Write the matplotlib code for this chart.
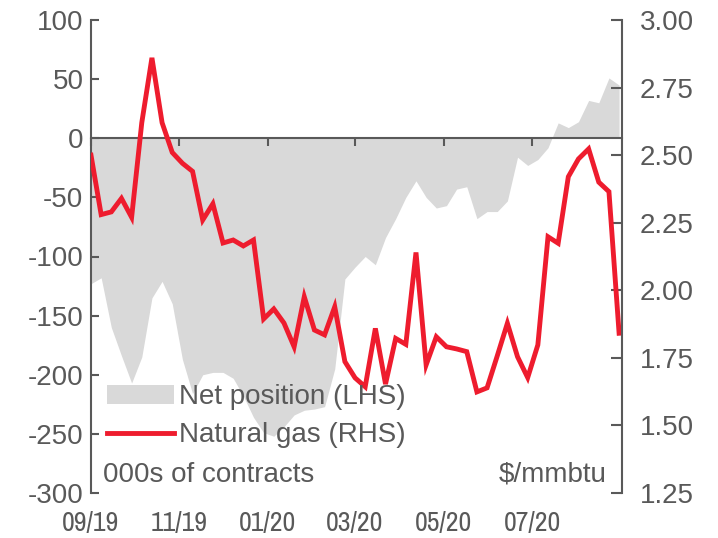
import matplotlib
matplotlib.use("Agg")
import matplotlib.pyplot as plt
import matplotlib.dates as mdates
from matplotlib import font_manager
import pandas as pd
import numpy as np

plt.rcParams['font.family'] = ['Liberation Sans', 'DejaVu Sans']
plt.rcParams['axes.unicode_minus'] = False

# ---- data (weekly, Sep 2019 - Sep 2020) ----
start_date = "2019-09-03"
n_weeks = 53
net_position = [-123, -118, -160, -184, -207, -185, -135, -121, -140, -187,
                -216, -200, -198, -198, -203, -218, -236, -249, -252, -244,
                -234, -230, -229, -227, -195, -119, -109, -100, -107, -84,
                -68, -50, -36, -50, -59, -57, -43, -41, -68, -62,
                -62, -53, -16, -23, -18, -8, 13, 9, 14, 32, 30, 51, 45]
natural_gas = [2.50, 2.28, 2.29, 2.34, 2.27, 2.62, 2.86, 2.62, 2.51, 2.47,
               2.44, 2.26, 2.32, 2.175, 2.186, 2.164, 2.186, 1.894, 1.931, 1.879,
               1.791, 1.976, 1.853, 1.835, 1.939, 1.736, 1.676, 1.643, 1.859, 1.653,
               1.822, 1.80, 2.14, 1.724, 1.828, 1.791, 1.783, 1.773, 1.624, 1.639,
               1.757, 1.878, 1.754, 1.677, 1.798, 2.198, 2.174, 2.42, 2.486, 2.523,
               2.40, 2.365, 1.841]
x_tick_dates = ["2019-09-03", "2019-11-03", "2020-01-03", "2020-03-03", "2020-05-03", "2020-07-03"]
x_tick_labels = ["09/19", "11/19", "01/20", "03/20", "05/20", "07/20"]
left_ticks = [100, 50, 0, -50, -100, -150, -200, -250, -300]
right_ticks = [3.00, 2.75, 2.50, 2.25, 2.00, 1.75, 1.50, 1.25]
series_labels = ["Net position (LHS)", "Natural gas (RHS)"]

dates = pd.date_range(start_date, periods=n_weeks, freq="7D")

TXT = "#595959"
AX = "#595959"
RED = "#EE1C2E"
GREY = "#D9D9D9"
FS = 20

# look for a condensed face for the date labels
narrow_font = None
for f in font_manager.fontManager.ttflist:
    nm = f.name
    if ('Narrow' in nm or 'Condensed' in nm) and f.weight in (400, 'normal', 'regular') and f.style == 'normal':
        narrow_font = nm
        break
if narrow_font is None:
    cands = [f for f in font_manager.fontManager.ttflist
             if f.stretch in ('condensed', 'semi-condensed') and f.style == 'normal'
             and f.weight in (400, 'normal', 'regular')]
    if cands:
        narrow_font = cands[0]
xfs = FS if narrow_font is not None else 17

fig = plt.figure(figsize=(7.18, 5.38), dpi=100)
W, H = 718, 538
L, R, T, B = 91, 622, 20, 493
ax = fig.add_axes([L / W, 1 - B / H, (R - L) / W, (B - T) / H])
ax2 = ax.twinx()

ax.fill_between(dates, 0, net_position, color=GREY, linewidth=0, label=series_labels[0])
ax2.plot(dates, natural_gas, color=RED, lw=3.5, label=series_labels[1], solid_joinstyle='miter')

ax.set_xlim(pd.Timestamp("2019-09-03"), pd.Timestamp("2020-09-03"))
ax.set_ylim(-300, 100)
ax2.set_ylim(1.25, 3.00)

for a in (ax, ax2):
    a.spines['top'].set_visible(False)
ax.spines['right'].set_visible(False)
ax2.spines['left'].set_visible(False)
ax2.spines['bottom'].set_visible(False)
ax.spines['left'].set_color(AX)
ax.spines['left'].set_linewidth(1.5)
ax2.spines['right'].set_color(AX)
ax2.spines['right'].set_linewidth(1.5)
ax.spines['bottom'].set_position(('data', 0))
ax.spines['bottom'].set_color(AX)
ax.spines['bottom'].set_linewidth(1.5)

tick_dt = [pd.Timestamp(d) for d in x_tick_dates]
ax.set_xticks(tick_dt)
ax.tick_params(axis='x', direction='out', length=6, width=1.5, color=AX, labelbottom=False)

sec = ax.secondary_xaxis('bottom')
sec.set_xticks([mdates.date2num(d) for d in tick_dt])
if isinstance(narrow_font, str):
    sec.set_xticklabels(x_tick_labels, fontfamily=narrow_font)
elif narrow_font is not None:
    fp = font_manager.FontProperties(fname=narrow_font.fname, size=xfs)
    sec.set_xticklabels(x_tick_labels, fontproperties=fp)
else:
    sec.set_xticklabels(x_tick_labels)
sec.spines['bottom'].set_visible(False)
sec.tick_params(axis='x', length=0, pad=13 if xfs == FS else 14.5, labelsize=xfs, labelcolor=TXT)

ax.set_yticks(left_ticks)
ax.set_yticklabels([str(v) for v in left_ticks])
ax.tick_params(axis='y', direction='in', length=6, width=1.5, color=AX,
               labelsize=FS, labelcolor=TXT, pad=5.5)
ax2.set_yticks(right_ticks)
ax2.set_yticklabels([f"{v:.2f}" for v in right_ticks])
ax2.tick_params(axis='y', direction='in', length=8, width=1.5, color=AX,
                labelsize=FS, labelcolor=TXT, pad=13)

ax.text((103 - L) / (R - L), (B - 482) / (B - T), "000s of contracts",
        transform=ax.transAxes, fontsize=FS, color=TXT, ha='left', va='baseline')
ax.text((607 - L) / (R - L), (B - 482) / (B - T), "$/mmbtu",
        transform=ax.transAxes, fontsize=FS, color=TXT, ha='right', va='baseline')

h1, l1 = ax.get_legend_handles_labels()
h2, l2 = ax2.get_legend_handles_labels()
leg = ax2.legend(h1 + h2, l1 + l2, loc='upper left',
                 bbox_to_anchor=((107 - L) / (R - L), (B - 384) / (B - T)),
                 frameon=False, fontsize=FS, labelcolor=TXT,
                 handlelength=2.4, handletextpad=0.2, labelspacing=0.45,
                 borderpad=0, borderaxespad=0)

fig.savefig("out.png", dpi=100)
